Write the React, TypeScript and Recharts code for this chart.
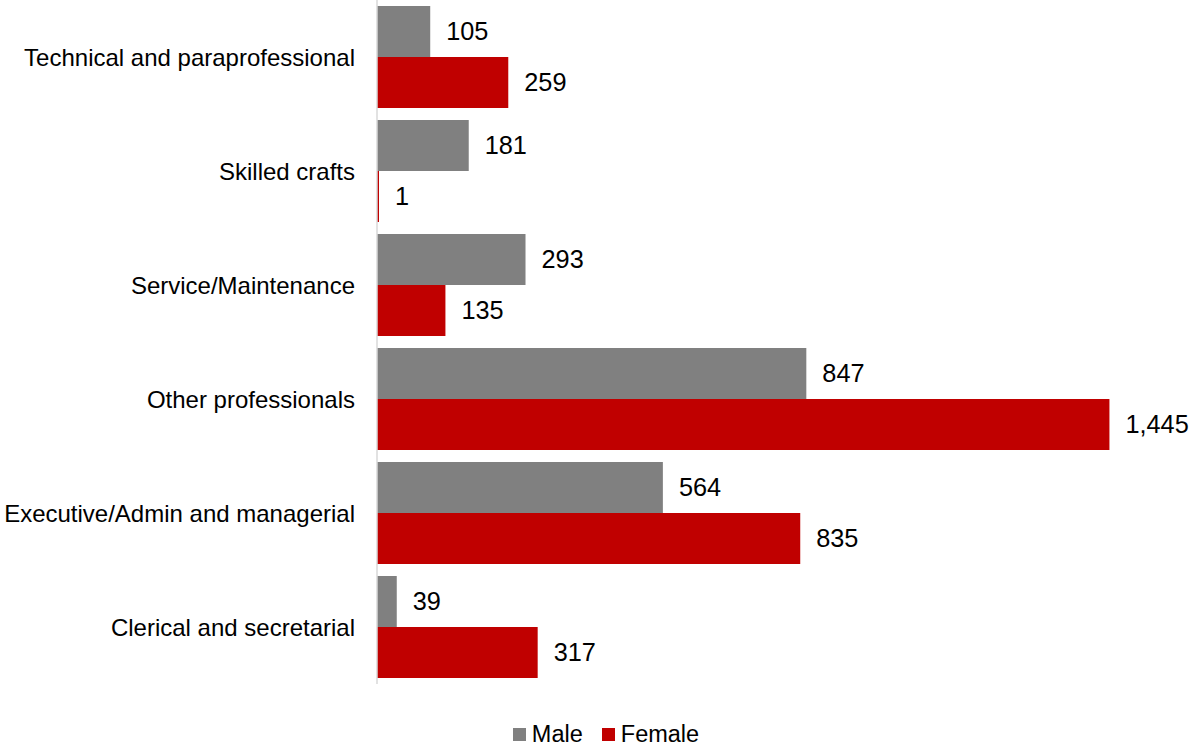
import { BarChart, Bar, XAxis, YAxis, Legend, LabelList } from "recharts";

const categories = [
  "Technical and paraprofessional",
  "Skilled crafts",
  "Service/Maintenance",
  "Other professionals",
  "Executive/Admin and managerial",
  "Clerical and secretarial",
];
const maleValues = [105, 181, 293, 847, 564, 39];
const femaleValues = [259, 1, 135, 1445, 835, 317];

const MALE = "#808080";
const FEMALE = "#c00000";
const FONT = "'Liberation Sans', Arial, sans-serif";

const data = categories.map((name, i) => ({
  name,
  male: maleValues[i],
  female: femaleValues[i],
}));

const fmt = (v: any) => Number(v).toLocaleString("en-US");

function LegendBox() {
  const items = [
    { label: "Male", color: MALE },
    { label: "Female", color: FEMALE },
  ];
  return (
    <div
      style={{
        boxSizing: "border-box",
        height: 64,
        paddingTop: 36,
        paddingLeft: 24,
        display: "flex",
        justifyContent: "center",
        fontFamily: FONT,
        fontSize: 23.5,
        lineHeight: "26px",
        color: "#000",
      }}
    >
      {items.map((it, i) => (
        <div key={it.label} style={{ display: "flex", alignItems: "center", marginLeft: i ? 19 : 0 }}>
          <span style={{ width: 13, height: 13, background: it.color, display: "inline-block", marginRight: 6 }} />
          <span>{it.label}</span>
        </div>
      ))}
    </div>
  );
}

export default function App() {
  return (
    <div style={{ position: "absolute", left: 0, top: 0, background: "#fff" }}>
      <BarChart
        width={1201}
        height={748}
        data={data}
        layout="vertical"
        margin={{ top: 0, right: 13, bottom: 0, left: 0 }}
        barCategoryGap={6}
        barGap={0}
      >
        <XAxis type="number" domain={[0, 1600]} hide />
        <YAxis
          type="category"
          dataKey="name"
          width={377}
          tickLine={false}
          tickSize={6}
          tickMargin={16}
          axisLine={{ stroke: "#d9d9d9", strokeWidth: 1.5 }}
          tick={{ fontSize: 24, fill: "#000", fontFamily: FONT }}
        />
        <Legend verticalAlign="bottom" content={() => <LegendBox />} />
        <Bar dataKey="male" name="Male" fill={MALE} isAnimationActive={false}>
          <LabelList dataKey="male" position="right" offset={16} formatter={fmt} style={{ fontSize: 25.3, fill: "#000", fontFamily: FONT }} />
        </Bar>
        <Bar dataKey="female" name="Female" fill={FEMALE} minPointSize={2} isAnimationActive={false}>
          <LabelList dataKey="female" position="right" offset={16} formatter={fmt} style={{ fontSize: 25.3, fill: "#000", fontFamily: FONT }} />
        </Bar>
      </BarChart>
    </div>
  );
}
